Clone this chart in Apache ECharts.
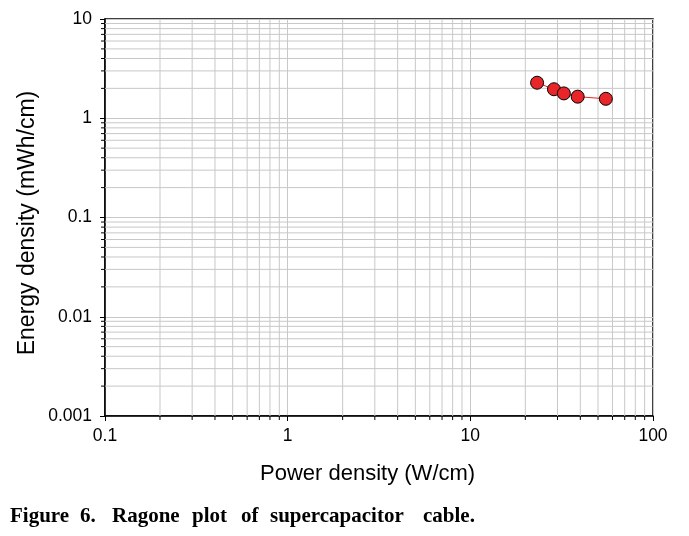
<!DOCTYPE html>
<html>
<head>
<meta charset="utf-8">
<script src="https://cdn.jsdelivr.net/npm/echarts@6/dist/echarts.min.js"></script>
<style>html,body{margin:0;padding:0;background:#fff}#c{width:689px;height:536px}</style>
</head>
<body>
<div id="c"></div>
<script>
// Data
const powerDensity = [23.2, 28.7, 32.5, 38.7, 55.2];   // W/cm
const energyDensity = [2.28, 1.96, 1.78, 1.65, 1.57];  // mWh/cm

const xTickLabels = ['0.1', '1', '10', '100'];
const yTickLabels = ['0.001', '0.01', '0.1', '1', '10'];
const xMinorValues = [0.2,0.3,0.4,0.5,0.6,0.7,0.8,0.9, 2,3,4,5,6,7,8,9, 20,30,40,50,60,70,80,90];
const yMinorValues = [0.002,0.003,0.004,0.005,0.006,0.007,0.008,0.009,
                      0.02,0.03,0.04,0.05,0.06,0.07,0.08,0.09,
                      0.2,0.3,0.4,0.5,0.6,0.7,0.8,0.9,
                      2,3,4,5,6,7,8,9];

const xName = 'Power density (W/cm)';
const yName = 'Energy density (mWh/cm)';
const caption = ['Figure', '6.', 'Ragone', 'plot', 'of', 'supercapacitor', 'cable.'];
const captionX = [10, 80, 112, 192, 241, 270, 423];

const X_MIN = 0.1, X_MAX = 100, Y_MIN = 0.001, Y_MAX = 10;
const gridColor = '#c8c8c8';

const chart = echarts.init(document.getElementById('c'), null, {renderer: 'canvas'});

const option = {
  animation: false,
  backgroundColor: '#fff',
  grid: {left: 105, right: 36, top: 19, bottom: 120, show: true, borderColor: '#000', borderWidth: 1.5, backgroundColor: 'transparent'},
  xAxis: {
    type: 'log', logBase: 10, min: X_MIN, max: X_MAX,
    axisLine: {lineStyle: {color: '#000', width: 1.5}},
    axisTick: {show: true, inside: false, length: 5, lineStyle: {color: '#000', width: 1}},
    axisLabel: {
      margin: 11, color: '#000', fontFamily: 'Liberation Sans, Arial', fontSize: 17.5,
      formatter: v => xTickLabels[Math.round(Math.log10(v)) + 1]
    },
    splitLine: {show: true, lineStyle: {color: gridColor, width: 1}},
    minorTick: {show: false}
  },
  yAxis: {
    type: 'log', logBase: 10, min: Y_MIN, max: Y_MAX,
    axisLine: {lineStyle: {color: '#000', width: 1.5}},
    axisTick: {show: true, inside: false, length: 5, lineStyle: {color: '#000', width: 1}},
    axisLabel: {
      margin: 13, color: '#000', fontFamily: 'Liberation Sans, Arial', fontSize: 17.5,
      formatter: v => yTickLabels[Math.round(Math.log10(v)) + 3]
    },
    splitLine: {show: true, lineStyle: {color: gridColor, width: 1}},
    minorTick: {show: false}
  },
  graphic: [
    {type: 'text', left: 260, top: 463, style: {text: xName, font: '22px "Liberation Sans", Arial', fill: '#000'}},
    {type: 'text', x: 28, y: 223, rotation: Math.PI / 2, style: {text: yName, font: '23px "Liberation Sans", Arial', fill: '#000', align: 'center', verticalAlign: 'middle'}}
  ].concat(caption.map((w, i) => ({
    type: 'text', left: captionX[i], top: 506,
    style: {text: w, font: 'bold 21px "Liberation Serif", "Times New Roman"', fill: '#000'}
  }))),
  series: [
    {
      type: 'custom', silent: true, clip: false, z: 1,
      data: xMinorValues.map(v => [v, 1]),
      renderItem: (params, api) => {
        const v = api.value(0);
        const top = api.coord([v, Y_MAX]);
        const bot = api.coord([v, Y_MIN]);
        return {type: 'group', children: [
          {type: 'line', shape: {x1: top[0], y1: top[1], x2: bot[0], y2: bot[1]}, style: {stroke: gridColor, lineWidth: 1}},
          {type: 'line', shape: {x1: bot[0], y1: bot[1], x2: bot[0], y2: bot[1] + 4}, style: {stroke: '#000', lineWidth: 1}}
        ]};
      }
    },
    {
      type: 'custom', silent: true, clip: false, z: 1,
      data: yMinorValues.map(v => [1, v]),
      renderItem: (params, api) => {
        const v = api.value(1);
        const l = api.coord([X_MIN, v]);
        const r = api.coord([X_MAX, v]);
        return {type: 'group', children: [
          {type: 'line', shape: {x1: l[0], y1: l[1], x2: r[0], y2: r[1]}, style: {stroke: gridColor, lineWidth: 1}},
          {type: 'line', shape: {x1: l[0], y1: l[1], x2: l[0] - 4, y2: l[1]}, style: {stroke: '#000', lineWidth: 1}}
        ]};
      }
    },
    {
      type: 'line', z: 5,
      data: powerDensity.map((p, i) => [p, energyDensity[i]]),
      symbol: 'circle', symbolSize: 13,
      itemStyle: {color: '#e8262a', borderColor: '#000', borderWidth: 1},
      lineStyle: {color: '#e8262a', width: 1}
    }
  ]
};
chart.setOption(option);
</script>
</body>
</html>
